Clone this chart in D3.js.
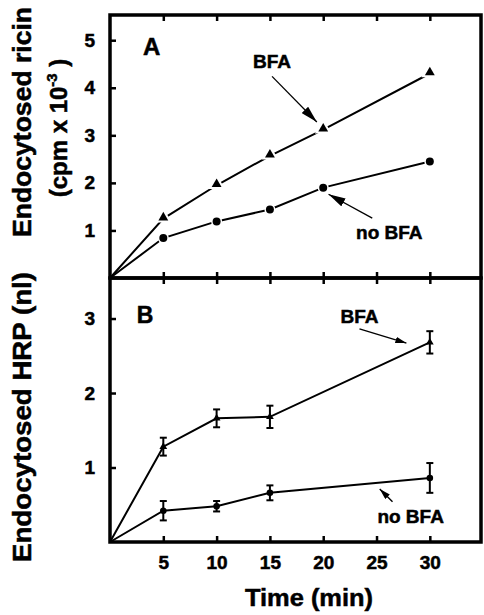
<!DOCTYPE html>
<html>
<head>
<meta charset="utf-8">
<script src="https://cdn.jsdelivr.net/npm/d3@7"></script>
<style>
  body { margin: 0; background: #fff; }
  svg text { font-family: "Liberation Sans", Arial, sans-serif; font-weight: bold; fill: #000; stroke: #000; stroke-width: 0.5; }
</style>
</head>
<body>
<div id="chart"></div>
<script>
// panel A: endocytosed ricin (cpm x 10^-3)
const timesA = [0, 5, 10, 15, 20, 30];
const ricinBFA = [0, 1.25, 1.95, 2.57, 3.12, 4.3];
const ricinNoBFA = [0, 0.84, 1.19, 1.44, 1.9, 2.45];

// panel B: endocytosed HRP (nl), with error bars
const timesB = [0, 5, 10, 15, 30];
const hrpBFA = [0, 1.28, 1.66, 1.68, 2.68];
const hrpBFAErr = [0, 0.12, 0.12, 0.15, 0.15];
const hrpNoBFA = [0, 0.42, 0.48, 0.66, 0.86];
const hrpNoBFAErr = [0, 0.13, 0.07, 0.1, 0.2];

const xTicks = [5, 10, 15, 20, 25, 30];
const yTicksA = [1, 2, 3, 4, 5];
const yTicksB = [1, 2, 3];

const svg = d3.select("#chart").append("svg").attr("width", 484).attr("height", 615);

const x = d3.scaleLinear().domain([0, 34.8]).range([110, 481]);
const yA = d3.scaleLinear().domain([0, 5.53]).range([278, 15]);
const yB = d3.scaleLinear().domain([0, 3.544]).range([542, 278]);

const defs = svg.append("defs");
const arrowHead = (id, len, w) => defs.append("marker")
    .attr("id", id).attr("viewBox", `0 ${-w} ${len} ${2 * w}`)
    .attr("refX", len).attr("refY", 0)
    .attr("markerUnits", "userSpaceOnUse")
    .attr("markerWidth", len).attr("markerHeight", 2 * w)
    .attr("orient", "auto")
  .append("path").attr("d", `M0,${-w}L${len},0L0,${w}Z`).attr("fill", "#000");
arrowHead("bigHead", 17, 4.5);
arrowHead("smallHead", 11, 3.2);

function frame(y) {
  const [y0, y1] = y.range();
  svg.append("rect")
    .attr("x", x(0)).attr("y", y1)
    .attr("width", x.range()[1] - x(0)).attr("height", y0 - y1)
    .attr("fill", "none").attr("stroke", "#000").attr("stroke-width", 3.5);
}

function ticks(y, yt, withXLabels) {
  const [y0, y1] = y.range();
  // left axis ticks inside
  const ax = svg.append("g").attr("transform", `translate(${x(0)},0)`)
    .call(d3.axisLeft(y).tickValues(yt).tickFormat(d3.format("d"))
      .tickSizeInner(-6).tickSizeOuter(0).tickPadding(15));
  ax.select(".domain").remove();
  ax.selectAll("line").attr("stroke-width", 2.5);
  ax.selectAll("text").attr("font-size", 19).attr("font-family", null);
  // bottom ticks
  const bx = svg.append("g").attr("transform", `translate(0,${y0})`)
    .call(d3.axisBottom(x).tickValues(xTicks).tickFormat(d3.format("d"))
      .tickSizeInner(-6).tickSizeOuter(0).tickPadding(14));
  bx.select(".domain").remove();
  bx.selectAll("line").attr("stroke-width", 2.5);
  if (withXLabels) bx.selectAll("text").attr("font-size", 19).attr("font-family", null);
  else bx.selectAll("text").remove();
  // top ticks
  const tx = svg.append("g").attr("transform", `translate(0,${y1})`)
    .call(d3.axisTop(x).tickValues(xTicks).tickSizeInner(-6).tickSizeOuter(0));
  tx.select(".domain").remove();
  tx.selectAll("line").attr("stroke-width", 2.5);
  tx.selectAll("text").remove();
}

frame(yA);
frame(yB);
ticks(yA, yTicksA, false);
ticks(yB, yTicksB, true);

// ---- panel A
const lineA = d3.line().x(d => x(d[0])).y(d => yA(d[1]));
[ricinBFA, ricinNoBFA].forEach(vals => {
  svg.append("path").datum(timesA.map((t, i) => [t, vals[i]]))
    .attr("d", lineA).attr("fill", "none").attr("stroke", "#000").attr("stroke-width", 2);
});
const triA = d3.symbol().type(d3.symbolTriangle).size(42);
svg.append("g").selectAll("path").data(timesA.slice(1).map((t, i) => [t, ricinBFA[i + 1]]))
  .join("path")
  .attr("d", triA)
  .attr("transform", d => `translate(${x(d[0])},${yA(d[1]) - 1})`)
  .attr("fill", "#000").attr("stroke", "#fff").attr("stroke-width", 4).attr("paint-order", "stroke");
svg.append("g").selectAll("circle").data(timesA.slice(1).map((t, i) => [t, ricinNoBFA[i + 1]]))
  .join("circle")
  .attr("cx", d => x(d[0])).attr("cy", d => yA(d[1])).attr("r", 4)
  .attr("fill", "#000").attr("stroke", "#fff").attr("stroke-width", 3).attr("paint-order", "stroke");

// ---- panel B
const lineB = d3.line().x(d => x(d[0])).y(d => yB(d[1]));
[[hrpBFA, hrpBFAErr], [hrpNoBFA, hrpNoBFAErr]].forEach(([vals, errs], k) => {
  const pts = timesB.map((t, i) => [t, vals[i], errs[i]]);
  svg.append("path").datum(pts).attr("d", lineB)
    .attr("fill", "none").attr("stroke", "#000").attr("stroke-width", 2);
  const g = svg.append("g").selectAll("g").data(pts.slice(1)).join("g");
  g.append("line")
    .attr("x1", d => x(d[0])).attr("x2", d => x(d[0]))
    .attr("y1", d => yB(d[1] - d[2])).attr("y2", d => yB(d[1] + d[2]))
    .attr("stroke", "#000").attr("stroke-width", 2);
  [-1, 1].forEach(s => g.append("line")
    .attr("x1", d => x(d[0]) - 3.5).attr("x2", d => x(d[0]) + 3.5)
    .attr("y1", d => yB(d[1] + s * d[2])).attr("y2", d => yB(d[1] + s * d[2]))
    .attr("stroke", "#000").attr("stroke-width", 2));
  if (k === 0) {
    g.append("path").attr("d", d3.symbol().type(d3.symbolTriangle).size(26))
      .attr("transform", d => `translate(${x(d[0])},${yB(d[1])})`).attr("fill", "#000");
  } else {
    g.append("circle").attr("cx", d => x(d[0])).attr("cy", d => yB(d[1])).attr("r", 3.3).attr("fill", "#000");
  }
});

// ---- annotations (data coordinates)
function note(y, label, t, v, fs, anchor) {
  svg.append("text").attr("x", x(t)).attr("y", y(v))
    .attr("text-anchor", anchor || "middle").attr("font-size", fs).text(label);
}
function arrow(y, t0, v0, t1, v1, head, w) {
  svg.append("line")
    .attr("x1", x(t0)).attr("y1", y(v0)).attr("x2", x(t1)).attr("y2", y(v1))
    .attr("stroke", "#000").attr("stroke-width", w).attr("marker-end", `url(#${head})`);
}
note(yA, "A", 3.1, 4.68, 24, "start");
note(yB, "B", 2.5, 2.94, 23, "start");
note(yA, "BFA", 15.2, 4.41, 19);
arrow(yA, 15.2, 4.24, 19.4, 3.28, "bigHead", 1.3);
note(yA, "no BFA", 26.2, 0.82, 19);
arrow(yA, 24.6, 1.26, 20.5, 1.76, "bigHead", 1.3);
note(yB, "BFA", 23.4, 2.94, 19);
arrow(yB, 23.4, 2.86, 27.8, 2.67, "smallHead", 1.4);
note(yB, "no BFA", 28.2, 0.255, 19);
arrow(yB, 26.5, 0.54, 25.3, 0.71, "smallHead", 1.4);

// ---- axis titles
svg.append("text").attr("transform", "translate(31,122) rotate(-90)")
  .attr("text-anchor", "middle").attr("font-size", 26)
  .attr("textLength", 230).attr("lengthAdjust", "spacingAndGlyphs")
  .text("Endocytosed ricin");
const sub = svg.append("text").attr("transform", "translate(67,128) rotate(-90)")
  .attr("text-anchor", "middle").attr("font-size", 24);
sub.append("tspan").text("(cpm x 10");
sub.append("tspan").attr("font-size", 15).attr("dy", -10).text("-3");
sub.append("tspan").attr("dy", 10).text(" )");
svg.append("text").attr("transform", "translate(31,417) rotate(-90)")
  .attr("text-anchor", "middle").attr("font-size", 26)
  .attr("textLength", 290).attr("lengthAdjust", "spacingAndGlyphs")
  .text("Endocytosed HRP (nl)");
svg.append("text").attr("x", 309).attr("y", 606)
  .attr("text-anchor", "middle").attr("font-size", 24)
  .attr("textLength", 128).attr("lengthAdjust", "spacingAndGlyphs")
  .text("Time (min)");
</script>
</body>
</html>
